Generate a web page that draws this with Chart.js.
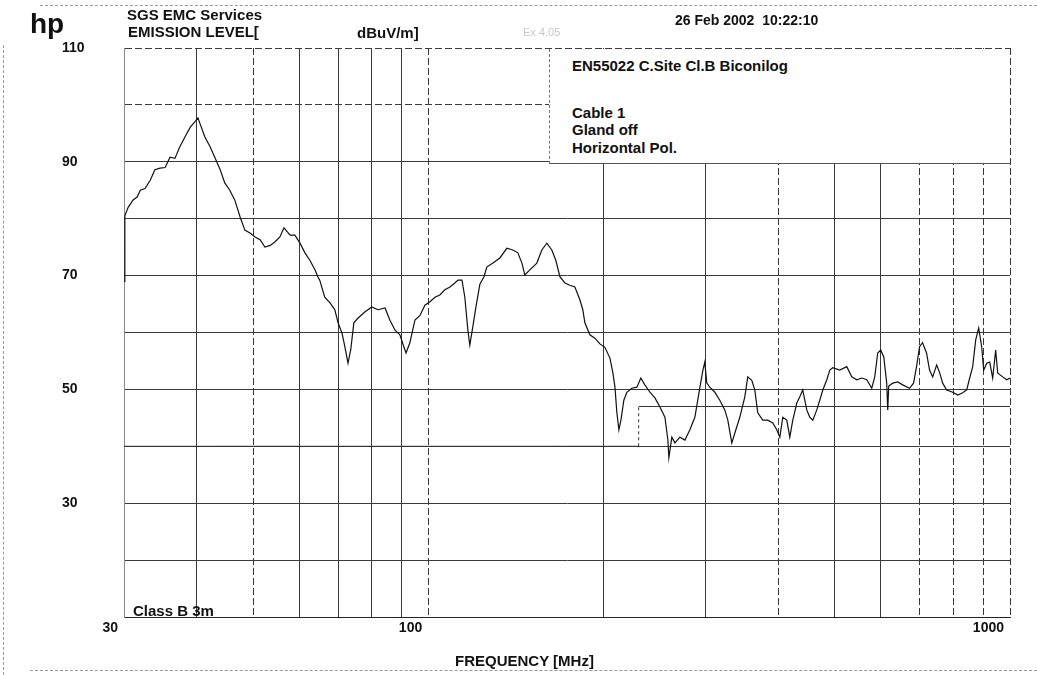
<!DOCTYPE html>
<html>
<head>
<meta charset="utf-8">
<script src="https://cdn.jsdelivr.net/npm/chart.js@4.4.1/dist/chart.umd.min.js"></script>
<style>
body { margin: 0; background: #fff; }
#wrap { position: relative; width: 1037px; height: 675px; overflow: hidden;
        font-family: "Liberation Sans", Arial, sans-serif; font-weight: bold; color: #111; }
#wrap canvas { position: absolute; left: 0; top: 0; }
.t { position: absolute; line-height: 1; white-space: pre; font-size: 15px; }
.frame { position: absolute; border-color: #999; border-style: dashed; border-width: 0; }
#box { position: absolute; left: 549px; top: 49px; width: 460px; height: 114px; background: #fff;
       border-left: 1px dashed #777; border-bottom: 1px solid #555; }
</style>
</head>
<body>
<div id="wrap">
  <canvas id="emission" width="1037" height="675"></canvas>
  <div class="frame" style="left:40px; top:5px; width:997px; border-top-width:1px;"></div>
  <div class="frame" style="left:3px; top:45px; height:630px; border-left-width:1px;"></div>
  <div class="frame" style="left:30px; top:670px; width:1007px; border-top-width:1px;"></div>
  <div id="box"></div>
  <div class="t" style="left:30px; top:10px; font-size:28px;">hp</div>
  <div class="t" style="left:127px; top:7px;">SGS EMC Services</div>
  <div class="t" style="left:128px; top:24px;">EMISSION LEVEL[</div>
  <div class="t" style="left:357px; top:25px;">dBuV/m]</div>
  <div class="t" style="left:523px; top:27px; font-size:11px; font-weight:normal; color:#c8c8c8;">Ex 4.05</div>
  <div class="t" style="left:675px; top:13px; font-size:14px;">26 Feb 2002  10:22:10</div>
  <div class="t" style="left:572px; top:58px;">EN55022 C.Site Cl.B Biconilog</div>
  <div class="t" style="left:572px; top:105px;">Cable 1</div>
  <div class="t" style="left:572px; top:122px;">Gland off</div>
  <div class="t" style="left:572px; top:140px;">Horizontal Pol.</div>
  <div class="t" style="left:133px; top:603px;">Class B 3m</div>
  <div class="t" style="left:455px; top:653px;">FREQUENCY [MHz]</div>
</div>
<script>
// emission trace (MHz, dBuV/m)
var freqs = [30.0, 30.1, 30.5, 31.1, 31.6, 32.0, 32.6, 33.3, 33.9, 34.6, 35.3, 36.0, 36.7, 37.4, 38.2, 39.0, 39.7, 40.2, 40.5,
  41.3, 42.2, 43.0, 43.9, 44.7, 45.6, 46.5, 47.5, 48.4, 49.4, 50.4, 51.4, 52.4, 53.5, 54.5, 55.6, 56.5, 57.9, 59.0, 60.2,
  61.4, 62.6, 63.9, 64.6, 65.1, 66.4, 67.8, 69.1, 70.0, 71.1, 71.9, 72.8, 73.6, 74.5, 75.7, 77.8, 80.0, 82.0, 84.3, 85.9,
  87.7, 89.4, 90.8, 91.6, 93.0, 94.9, 96.8, 98.7, 100.7, 102.7, 104.7, 106.8, 109.0, 111.1, 112.5, 114.3, 115.6, 117.0,
  117.9, 119.3, 120.8, 122.7, 124.7, 126.1, 129.2, 132.8, 136.5, 139.8, 142.6, 144.9, 146.6, 149.5, 153.7, 156.8, 159.9,
  163.1, 165.7, 168.4, 171.8, 175.2, 178.7, 182.3, 184.4, 185.9, 189.6, 193.4, 197.3, 201.2, 205.3, 207.7, 209.4, 211.0,
  212.7, 214.4, 216.9, 219.5, 223.9, 228.4, 232.0, 235.7, 240.5, 245.3, 250.2, 255.2, 258.2, 259.2, 262.3, 265.5, 270.8,
  276.2, 281.7, 287.3, 293.1, 296.6, 298.8, 301.2, 304.8, 310.9, 317.1, 323.4, 327.3, 332.5, 336.5, 343.2, 350.1, 354.2,
  359.9, 364.2, 368.5, 375.9, 383.4, 391.1, 397.3, 402.1, 406.9, 413.4, 418.3, 423.3, 430.1, 435.2, 440.3, 447.4, 452.8,
  458.2, 465.5, 471.0, 476.7, 484.3, 490.1, 495.9, 509.8, 524.1, 534.6, 545.3, 556.2, 567.3, 578.6, 585.5, 592.5, 599.6,
  606.8, 613.9, 616.4, 618.8, 628.7, 641.3, 654.1, 671.9, 682.7, 690.8, 699.1, 707.4, 718.7, 727.3, 736.4, 748.1, 757.1,
  766.1, 778.4, 797.1, 813.0, 829.3, 842.5, 852.6, 862.8, 873.1, 883.5, 894.0, 901.1, 911.9, 922.8, 933.8, 944.9, 952.4,
  971.5, 987.0, 1000];
var levels = [69.0, 80.5, 82.0, 83.3, 83.8, 85.0, 85.3, 86.8, 88.6, 88.9, 89.0, 90.8, 90.6, 92.6, 94.4, 96.1, 97.0, 97.7, 96.8,
  94.4, 92.6, 90.7, 88.6, 86.3, 85.0, 83.3, 80.3, 78.0, 77.5, 76.8, 76.3, 75.0, 75.3, 75.9, 76.8, 78.4, 77.1, 77.1, 75.7,
  74.0, 72.7, 71.0, 69.8, 69.2, 66.2, 65.2, 64.0, 61.7, 59.9, 57.5, 54.6, 57.0, 61.7, 62.5, 63.6, 64.5, 64.0, 64.3, 62.2,
  60.4, 59.6, 57.5, 56.4, 58.2, 62.2, 63.0, 64.8, 65.4, 66.2, 66.6, 67.5, 68.0, 68.7, 69.2, 69.2, 66.2, 60.4,
  57.8, 61.0, 64.5, 68.5, 69.8, 71.5, 72.2, 73.1, 74.8, 74.5, 74.0, 72.2, 70.1, 71.0, 72.2, 74.5, 75.7,
  74.5, 72.7, 69.8, 68.7, 68.3, 68.0, 65.7, 64.0, 61.7, 59.6, 59.0, 58.0, 57.4, 55.5, 52.9, 50.4, 45.9,
  42.9, 44.6, 48.1, 49.5, 50.2, 50.4, 52.0, 50.8, 49.5, 48.5, 46.9, 45.1, 41.1, 38.0, 41.6, 40.6, 41.6,
  41.1, 42.9, 45.1, 50.4, 53.4, 54.8, 51.1, 50.4, 49.5, 48.1, 46.4, 44.6, 40.6, 42.3, 45.1, 48.7, 52.2,
  51.6, 49.9, 45.9, 44.6, 44.6, 44.1, 42.9, 41.6, 45.1, 44.6, 41.6, 44.6, 47.6, 48.7, 49.9, 46.4, 45.1,
  44.6, 46.4, 48.1, 49.9, 51.7, 53.4, 53.8, 53.4, 54.0, 52.2, 51.7, 52.0, 51.7, 50.2, 52.2, 56.4, 56.9,
  55.7, 51.1, 46.4, 50.6, 51.1, 51.3, 50.8, 50.2, 51.1, 54.0, 57.5, 58.2, 56.4, 53.4, 52.2, 54.3, 52.9,
  51.1, 49.9, 49.5, 49.0, 49.4, 49.9, 52.0, 54.0, 58.7, 60.8, 57.5, 53.4, 54.6, 54.8, 52.0, 56.9, 52.9,
  52.2, 51.7, 52.0];

// EN55022 class B 3m limit
var limitFreqs = [30, 230, 230, 1000];
var limitLevels = [40, 40, 47, 47];

// axes
var xGrid = [30, 40, 50, 60, 70, 80, 90, 100, 200, 300, 400, 500, 600, 700, 800, 900, 1000];
var xLabels = [30, 100, 1000];
var xDashed = [30, 50, 100, 400, 700, 800, 900, 1000];
var yLabels = [30, 50, 70, 90, 110];
var yDashed = [110, 100];

var font = { family: '"Liberation Sans", Arial, sans-serif', size: 14, weight: 'bold' };

var ctx = document.getElementById('emission').getContext('2d');
var chart = new Chart(ctx, {
    type: 'line',
    data: {
        datasets: [{
            label: 'Emission',
            data: freqs.map(function (f, i) { return { x: f, y: levels[i] }; }),
            borderColor: '#111',
            borderWidth: 1.2,
            pointRadius: 0,
            fill: false
        }, {
            label: 'Class B 3m',
            data: limitFreqs.map(function (f, i) { return { x: f, y: limitLevels[i] }; }),
            borderColor: '#333',
            borderWidth: 1,
            pointRadius: 0,
            fill: false,
            segment: {
                borderDash: function (c) { return c.p0.parsed.x === c.p1.parsed.x ? [3, 3] : undefined; }
            }
        }]
    },
    options: {
        responsive: false,
        animation: false,
        layout: { padding: { left: 62, top: 48, right: 27, bottom: 0 } },
        plugins: {
            legend: { display: false },
            tooltip: { enabled: false }
        },
        scales: {
            x: {
                type: 'logarithmic',
                min: 30,
                max: 1000,
                afterBuildTicks: function (s) { s.ticks = xGrid.map(function (v) { return { value: v }; }); },
                afterFit: function (s) { s.height = 58; },
                ticks: {
                    autoSkip: false, maxRotation: 0, minRotation: 0,
                    align: 'end', labelOffset: -6, padding: 3,
                    color: '#111', font: font,
                    callback: function (v) { return xLabels.indexOf(v) >= 0 ? String(v) : ''; }
                },
                grid: { color: '#3a3a3a', lineWidth: 1, drawTicks: false },
                border: {
                    color: '#222',
                    dash: function (c) { return c.tick && xDashed.indexOf(c.tick.value) >= 0 ? [7, 3] : []; }
                }
            },
            y: {
                min: 10,
                max: 110,
                afterFit: function (s) { s.width = 62; },
                ticks: {
                    stepSize: 10, crossAlign: 'far', padding: 0,
                    color: '#111', font: font,
                    callback: function (v) { return yLabels.indexOf(v) >= 0 ? String(v) : ''; }
                },
                grid: { color: '#3a3a3a', lineWidth: 1, drawTicks: false },
                border: {
                    color: '#888',
                    dash: function (c) { return c.tick && yDashed.indexOf(c.tick.value) >= 0 ? [7, 3] : []; }
                }
            }
        }
    }
});
</script>
</body>
</html>
